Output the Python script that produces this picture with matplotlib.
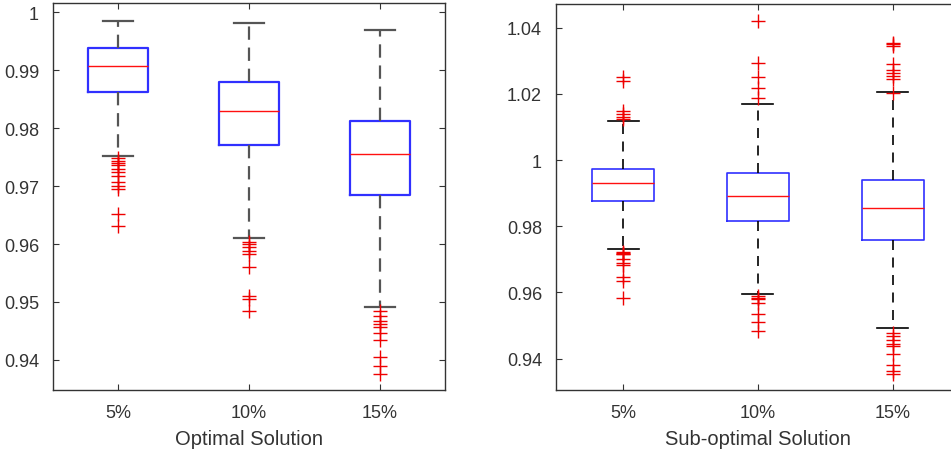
import matplotlib.pyplot as plt
import numpy as np

plt.rcParams['font.family'] = ['Liberation Sans', 'DejaVu Sans']

levels = ['5%', '10%', '15%']

# optimal solution: box stats per noise level
opt_whishi = [0.99856, 0.99821, 0.99701]
opt_q3 = [0.99378, 0.98802, 0.98129]
opt_med = [0.99067, 0.98290, 0.97547]
opt_q1 = [0.98630, 0.97714, 0.96839]
opt_whislo = [0.97518, 0.96102, 0.94910]
opt_fliers = [
    [0.9748, 0.9744, 0.9740, 0.9736, 0.9729, 0.9725, 0.9718, 0.9707, 0.9701, 0.9695, 0.9651, 0.9631],
    [0.9604, 0.9600, 0.9594, 0.9588, 0.9583, 0.9560, 0.9511, 0.9505, 0.9484],
    [0.9485, 0.9476, 0.9467, 0.9462, 0.9456, 0.9447, 0.9435, 0.9405, 0.9390, 0.9375],
]

# sub-optimal solution
sub_whishi = [1.0117, 1.0169, 1.0206]
sub_q3 = [0.99730, 0.99609, 0.99388]
sub_med = [0.99317, 0.98904, 0.98552]
sub_q1 = [0.98773, 0.98149, 0.97595]
sub_whislo = [0.97313, 0.95944, 0.94937]
sub_fliers = [
    [1.0252, 1.0238, 1.0148, 1.0138, 1.0131, 1.0125,
     0.9723, 0.9720, 0.9717, 0.9715, 0.9700, 0.9690, 0.9683, 0.9648, 0.9635, 0.9584],
    [1.0420, 1.0294, 1.0252, 1.0219, 1.0186,
     0.9589, 0.9584, 0.9579, 0.9567, 0.9536, 0.9511, 0.9484],
    [1.0355, 1.0350, 1.0345, 1.0289, 1.0272, 1.0262, 1.0254, 1.0244, 1.0202,
     0.9477, 0.9467, 0.9456, 0.9443, 0.9438, 0.9413, 0.9380, 0.9363, 0.9353],
]


def make_stats(lo, q1, med, q3, hi, fl):
    return [dict(whislo=lo[i], q1=q1[i], med=med[i], q3=q3[i], whishi=hi[i],
                 fliers=fl[i], label=levels[i]) for i in range(len(levels))]


def draw(ax, stats, lw, wcolor, dashes, ylim, yticks, yticklabels, xlabel):
    ax.bxp(stats, positions=[1, 2, 3], widths=0.46, showfliers=True,
           boxprops=dict(color='#3030ff', linewidth=lw),
           medianprops=dict(color='#ff1010', linewidth=1.0),
           whiskerprops=dict(color=wcolor, linewidth=lw, linestyle=(0, dashes)),
           capprops=dict(color=wcolor, linewidth=lw),
           flierprops=dict(marker='+', markeredgecolor='#ee0000', markersize=10,
                           markeredgewidth=1.0, linestyle='none'))
    ax.set_xlim(0.5, 3.5)
    ax.set_ylim(*ylim)
    ax.set_yticks(yticks)
    ax.set_yticklabels(yticklabels)
    ax.set_xticks([1, 2, 3])
    ax.set_xticklabels(levels)
    ax.tick_params(direction='in', length=4, top=True, right=True, labelsize=13,
                   colors='#333333', pad=10)
    ax.set_xlabel(xlabel, fontsize=14.5, color='#333333', labelpad=6)
    for s in ax.spines.values():
        s.set_color('#333333')
        s.set_linewidth(1.0)


fig = plt.figure(figsize=(9.51, 4.56), dpi=100)
ax1 = fig.add_axes([0.0557, 0.1425, 0.4122, 0.8487])
ax2 = fig.add_axes([0.5846, 0.1425, 0.4248, 0.847])

draw(ax1, make_stats(opt_whislo, opt_q1, opt_med, opt_q3, opt_whishi, opt_fliers),
     1.6, '#555555', (6, 3.5), (0.9348, 1.0016),
     [0.94, 0.95, 0.96, 0.97, 0.98, 0.99, 1.0],
     ['0.94', '0.95', '0.96', '0.97', '0.98', '0.99', '1'], 'Optimal Solution')
draw(ax2, make_stats(sub_whislo, sub_q1, sub_med, sub_q3, sub_whishi, sub_fliers),
     1.2, '#000000', (6, 4.5), (0.9305, 1.0472),
     [0.94, 0.96, 0.98, 1.0, 1.02, 1.04],
     ['0.94', '0.96', '0.98', '1', '1.02', '1.04'], 'Sub-optimal Solution')

fig.savefig('out.png', dpi=100)
